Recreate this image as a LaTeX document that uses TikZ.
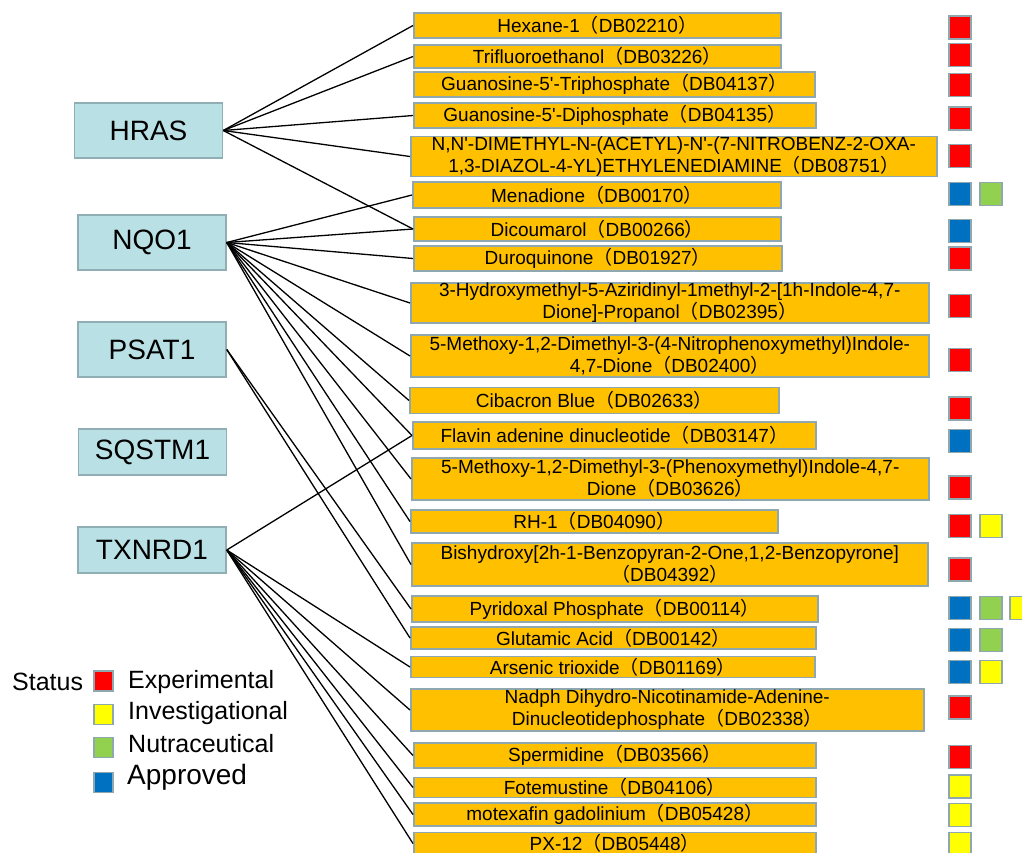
\documentclass[tikz,border=0pt]{standalone}
\usepackage{fontspec}
\setmainfont{Liberation Sans}
\newfontfamily\cjk{Noto Sans CJK SC}
\usepackage{tikz}
\usetikzlibrary{shapes}
\definecolor{genefill}{HTML}{B9E0E4}
\definecolor{geneedge}{HTML}{8FAFB5}
\definecolor{drugfill}{HTML}{FFC000}
\definecolor{drugedge}{HTML}{8FA8B0}
\definecolor{expred}{HTML}{FF0000}
\definecolor{invyellow}{HTML}{FFFF00}
\definecolor{nutgreen}{HTML}{92D050}
\definecolor{aprblue}{HTML}{0070C0}
\newcommand{\flp}{{\cjk （}}
\newcommand{\frp}{{\cjk ）}}
\newcommand{\pr}{\textquotesingle}

\begin{document}
\begin{tikzpicture}[x=1pt,y=-1pt]
\tikzstyle{gene}=[rectangle,draw=geneedge,fill=genefill,line width=1.5pt,font=\fontsize{28}{32}\selectfont,minimum width=148pt,minimum height=55pt,inner sep=0pt]
\tikzstyle{drug}=[rectangle,draw=drugedge,fill=drugfill,line width=1.5pt,font=\fontsize{19}{22}\selectfont,align=center,inner sep=0pt,anchor=west]
\tikzstyle{statbox}=[rectangle,draw=drugedge,line width=1.5pt,minimum width=22pt,minimum height=23pt,inner sep=0pt]
\tikzstyle{expbox}=[statbox,fill=expred]
\tikzstyle{invbox}=[statbox,fill=invyellow]
\tikzstyle{nutbox}=[statbox,fill=nutgreen]
\tikzstyle{aprbox}=[statbox,fill=aprblue]
\tikzstyle{keybox}=[statbox,minimum width=19pt,minimum height=20pt]
\tikzstyle{keytext}=[anchor=west,font=\fontsize{25}{28}\selectfont,inner sep=0pt]
\tikzstyle{link}=[line width=1.3pt,black]
\useasboundingbox (0,0) rectangle (1022,852);

% targets
\node[gene] (hras) at (148.5,130.5) {HRAS};
\node[gene] (nqo) at (152,242.5) {NQO1};
\node[gene] (psat) at (152,349.5) {PSAT1};
\node[gene,minimum height=46pt] (sqstm) at (152.5,452) {SQSTM1};
\node[gene,minimum height=46pt] (txnrd) at (152,550) {TXNRD1};

% drugs
\node[drug,minimum width=367pt,minimum height=25pt] (hex) at (413,25.5) {Hexane-1\flp DB02210\frp};
\node[drug,minimum width=367pt,minimum height=23pt] (tfe) at (413,56.5) {Trifluoroethanol\flp DB03226\frp};
\node[drug,minimum width=401pt,minimum height=25pt] (gtp) at (413,84.5) {Guanosine-5\pr-Triphosphate\flp DB04137\frp};
\node[drug,minimum width=402pt,minimum height=25pt] (gdp) at (413,115.5) {Guanosine-5\pr-Diphosphate\flp DB04135\frp};
\node[drug,minimum width=526pt,minimum height=39pt] (nbd) at (410,156.5) {N,N\pr-DIMETHYL-N-(ACETYL)-N\pr-(7-NITROBENZ-2-OXA-\\1,3-DIAZOL-4-YL)ETHYLENEDIAMINE\flp DB08751\frp};
\node[drug,minimum width=368pt,minimum height=26pt] (men) at (412,195) {Menadione\flp DB00170\frp};
\node[drug,minimum width=367pt,minimum height=24pt] (dic) at (413,229) {Dicoumarol\flp DB00266\frp};
\node[drug,minimum width=368pt,minimum height=25pt] (dur) at (413,258.5) {Duroquinone\flp DB01927\frp};
\node[drug,minimum width=518pt,minimum height=40pt] (hmi) at (410,303) {3-Hydroxymethyl-5-Aziridinyl-1methyl-2-[1h-Indole-4,7-\\Dione]-Propanol\flp DB02395\frp};
\node[drug,minimum width=518pt,minimum height=42pt] (mni) at (410,356) {5-Methoxy-1,2-Dimethyl-3-(4-Nitrophenoxymethyl)Indole-\\4,7-Dione\flp DB02400\frp};
\node[drug,minimum width=369pt,minimum height=26pt] (cib) at (409,400.5) {Cibacron Blue\flp DB02633\frp};
\node[drug,minimum width=403pt,minimum height=27pt] (fad) at (412,435.5) {Flavin adenine dinucleotide\flp DB03147\frp};
\node[drug,minimum width=517pt,minimum height=42pt] (mpi) at (411,479) {5-Methoxy-1,2-Dimethyl-3-(Phenoxymethyl)Indole-4,7-\\Dione\flp DB03626\frp};
\node[drug,minimum width=367pt,minimum height=23pt] (rh) at (410,521.5) {RH-1\flp DB04090\frp};
\node[drug,minimum width=516pt,minimum height=43pt] (bis) at (411,564.5) {Bishydroxy[2h-1-Benzopyran-2-One,1,2-Benzopyrone]\\\flp DB04392\frp};
\node[drug,minimum width=406pt,minimum height=26pt] (plp) at (411,609) {Pyridoxal Phosphate\flp DB00114\frp};
\node[drug,minimum width=405pt,minimum height=22pt] (glu) at (410,638) {Glutamic Acid\flp DB00142\frp};
\node[drug,minimum width=404pt,minimum height=21pt] (ars) at (410,667) {Arsenic trioxide\flp DB01169\frp};
\node[drug,minimum width=513pt,minimum height=42pt] (ndp) at (410,710) {Nadph Dihydro-Nicotinamide-Adenine-\\Dinucleotidephosphate\flp DB02338\frp};
\node[drug,minimum width=402pt,minimum height=25pt] (spd) at (413,755.5) {Spermidine\flp DB03566\frp};
\node[drug,minimum width=402pt,minimum height=20pt] (fot) at (413,787.5) {Fotemustine\flp DB04106\frp};
\node[drug,minimum width=402pt,minimum height=23pt] (mtx) at (413,814.5) {motexafin gadolinium\flp DB05428\frp};
\node[drug,minimum width=402pt,minimum height=22pt] (pxt) at (413,843.5) {PX-12\flp DB05448\frp};

% status marks
\node[expbox] (hexE) at (960,27.5) {};
\node[expbox] (tfeE) at (960,55) {};
\node[expbox] (gtpE) at (960,85) {};
\node[expbox] (gdpE) at (960,118.5) {};
\node[expbox] (nbdE) at (960,156) {};
\node[aprbox] (menA) at (960,194) {};
\node[nutbox] (menN) at (991,194) {};
\node[aprbox] (dicA) at (960,231) {};
\node[expbox] (durE) at (960,258.5) {};
\node[expbox] (hmiE) at (960,306) {};
\node[expbox] (mniE) at (960,360) {};
\node[expbox] (cibE) at (960,408.5) {};
\node[aprbox] (fadA) at (960,441) {};
\node[expbox] (mpiE) at (960,487.5) {};
\node[expbox] (rhE) at (960,526) {};
\node[invbox] (rhI) at (991,526) {};
\node[expbox] (bisE) at (960,569.5) {};
\node[aprbox] (plpA) at (960,608) {};
\node[nutbox] (plpN) at (991,608) {};
\node[invbox] (plpI) at (1021,608) {};
\node[aprbox] (gluA) at (960,640) {};
\node[nutbox] (gluN) at (991,640) {};
\node[aprbox] (arsA) at (960,672) {};
\node[invbox] (arsI) at (991,672) {};
\node[expbox] (ndpE) at (960,707.5) {};
\node[expbox] (spdE) at (960,757) {};
\node[invbox] (fotI) at (960,786.5) {};
\node[invbox] (mtxI) at (960,815) {};
\node[invbox] (pxtI) at (960,844) {};

% legend
\node[keytext] (status) at (12,682) {Status};
\node[keybox,fill=expred] (keyE) at (103.5,681) {};
\node[keybox,fill=invyellow] (keyI) at (103.5,714.5) {};
\node[keybox,fill=nutgreen] (keyN) at (103.5,747.5) {};
\node[keybox,fill=aprblue] (keyA) at (103.5,782.5) {};
\node[keytext] (keyEt) at (128,682) {Experimental};
\node[keytext] (keyIt) at (128,713) {Investigational};
\node[keytext] (keyNt) at (128,744) {Nutraceutical};
\node[keytext,font=\fontsize{28}{32}\selectfont] (keyAt) at (127,777) {Approved};

% links
\draw[link] (hras.east) -- (hex.west);
\draw[link] (hras.east) -- (tfe.west);
\draw[link] (hras.east) -- (gdp.west);
\draw[link] (hras.east) -- (nbd.west);
\draw[link] (hras.east) -- (dic.west);
\draw[link] (nqo.east) -- (men.west);
\draw[link] (nqo.east) -- (dic.west);
\draw[link] (nqo.east) -- (dur.west);
\draw[link] (nqo.east) -- (hmi.west);
\draw[link] (nqo.east) -- (mni.west);
\draw[link] (nqo.east) -- (cib.west);
\draw[link] (nqo.east) -- (fad.west);
\draw[link] (nqo.east) -- (mpi.west);
\draw[link] (nqo.east) -- (rh.west);
\draw[link] (nqo.east) -- (bis.west);
\draw[link] (psat.east) -- (plp.west);
\draw[link] (psat.east) -- (glu.west);
\draw[link] (txnrd.east) -- (fad.west);
\draw[link] (txnrd.east) -- (ars.west);
\draw[link] (txnrd.east) -- (ndp.west);
\draw[link] (txnrd.east) -- (spd.west);
\draw[link] (txnrd.east) -- (fot.west);
\draw[link] (txnrd.east) -- (mtx.west);
\draw[link] (txnrd.east) -- (pxt.west);
\end{tikzpicture}
\end{document}
